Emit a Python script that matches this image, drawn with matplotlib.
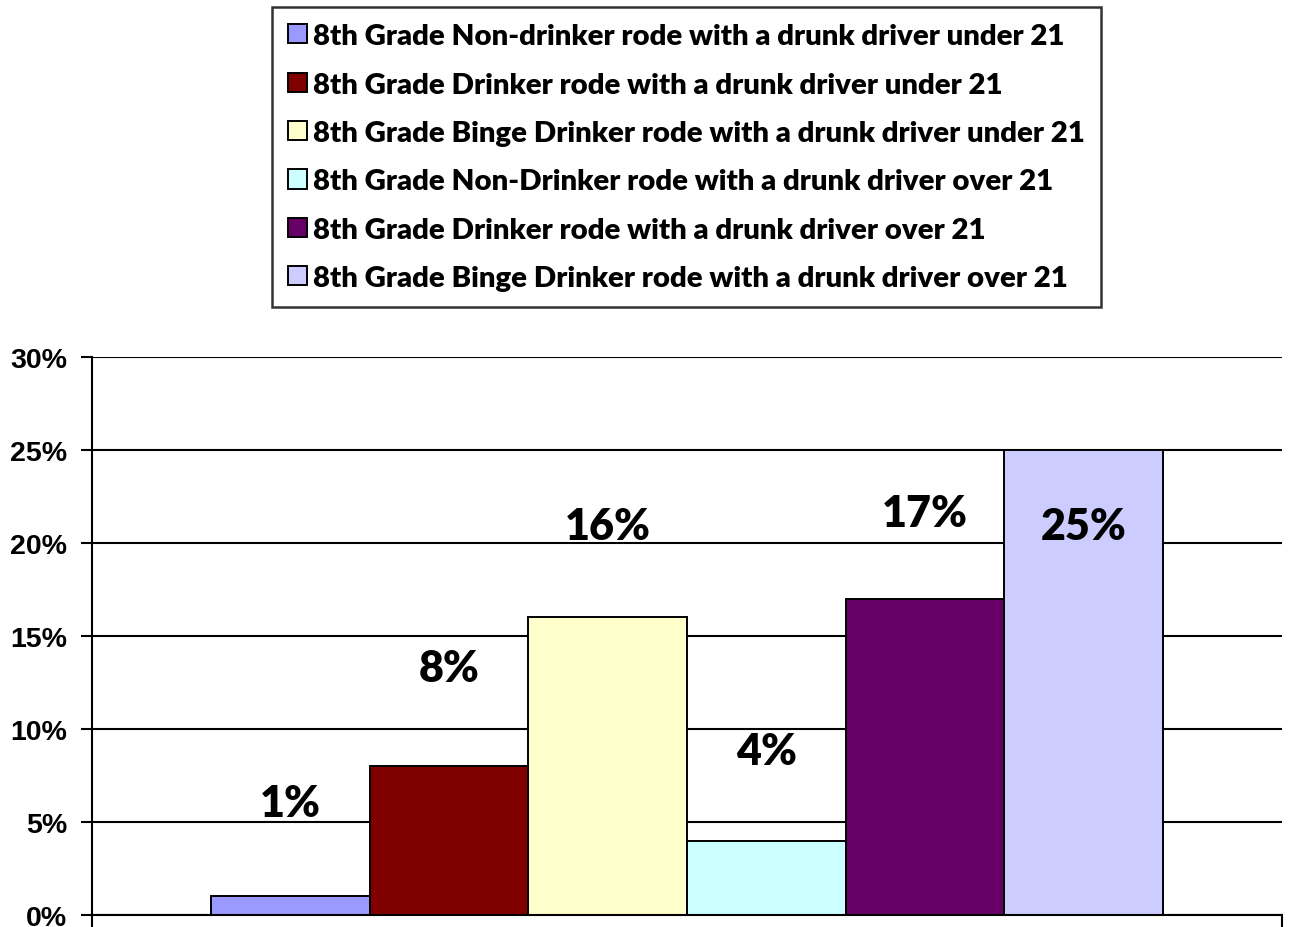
import matplotlib
matplotlib.use("Agg")
import matplotlib.pyplot as plt
from matplotlib.ticker import PercentFormatter

plt.rcParams["font.family"] = ["Lato", "DejaVu Sans"]
plt.rcParams["font.weight"] = "bold"

# one category, six series (percent of 8th graders)
SERIES = [
    "8th Grade Non-drinker rode with a drunk driver under 21",
    "8th Grade Drinker rode with a drunk driver under 21",
    "8th Grade Binge Drinker rode with a drunk driver under 21",
    "8th Grade Non-Drinker rode with a drunk driver over 21",
    "8th Grade Drinker rode with a drunk driver over 21",
    "8th Grade Binge Drinker rode with a drunk driver over 21",
]
VALUES = [1, 8, 16, 4, 17, 25]
COLORS = ["#9999FF", "#800000", "#FFFFCC", "#CCFFFF", "#660066", "#CCCCFF"]

Y_TICKS = [0, 5, 10, 15, 20, 25, 30]

# vertical offset of each value label from its bar top (last one sits inside)
LABEL_DY = [5.0, 5.3, 4.9, 4.8, 4.6, -4.1]

GROUP_W = 0.8
BAR_W = GROUP_W / len(VALUES)
LABEL_WEIGHT = "heavy"

fig = plt.figure(figsize=(12.9, 9.28), dpi=100)
ax = fig.add_axes([92 / 1290, 1 - 916 / 928, 1190 / 1290, 558 / 928])

handles = []
for i, (name, val, col) in enumerate(zip(SERIES, VALUES, COLORS)):
    x = -GROUP_W / 2 + BAR_W * (i + 0.5)
    b = ax.bar(x, val, width=BAR_W, color=col, edgecolor="black",
               linewidth=1.4, label=name, zorder=2)
    handles.append(b)
    ax.text(x, val + LABEL_DY[i], f"{val}%", ha="center", va="center",
            fontsize=31, fontweight=LABEL_WEIGHT, zorder=4)

ax.set_xlim(-0.5, 0.5)
ax.set_ylim(0, 30)
ax.set_yticks(Y_TICKS)
ax.yaxis.set_major_formatter(PercentFormatter(xmax=100, decimals=0))
ax.set_xticks([-0.5, 0.5])
ax.set_xticklabels([])
ax.tick_params(axis="y", length=8, width=1.5, pad=10)
ax.tick_params(axis="x", length=9, width=1.5, direction="out")
for lbl in ax.get_yticklabels():
    lbl.set_fontfamily("Liberation Sans")
    lbl.set_fontweight("bold")
    lbl.set_fontsize(20.5)

ax.grid(axis="y", color="black", linewidth=1.5, zorder=1)
ax.set_axisbelow(True)
for side in ("top", "right"):
    ax.spines[side].set_visible(False)
for side in ("left", "bottom"):
    ax.spines[side].set_linewidth(1.5)
    ax.spines[side].set_zorder(3)

leg = fig.legend(handles=handles, loc="upper left",
                 bbox_to_anchor=(272 / 1290, 1 - 8 / 928),
                 prop={"size": 21.2, "weight": LABEL_WEIGHT},
                 frameon=True, fancybox=False, shadow=False,
                 handlelength=0.63, handleheight=0.63, handletextpad=0.22,
                 labelspacing=0.76, borderpad=0.55, borderaxespad=0)
leg.get_frame().set_edgecolor("black")
leg.get_frame().set_linewidth(1.8)

fig.savefig("out.png", dpi=100)
